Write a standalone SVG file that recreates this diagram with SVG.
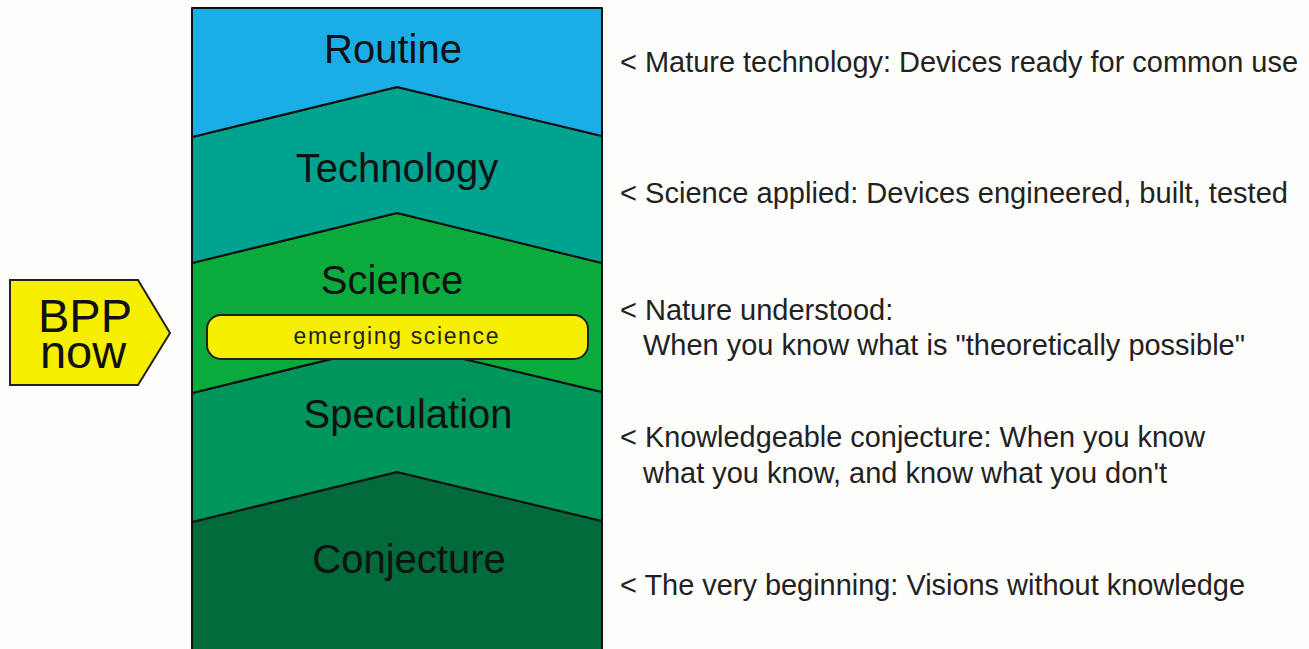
<svg xmlns="http://www.w3.org/2000/svg" width="1309" height="649" viewBox="0 0 1309 649">
<style>
.band{stroke:#111;stroke-width:2;stroke-linejoin:round}
.lbl{font-family:"Liberation Sans",Arial,sans-serif;font-size:40px;fill:#111;text-anchor:middle}
.desc{font-family:"Liberation Sans",Arial,sans-serif;font-size:29px;fill:#222}
.yel{fill:#f6ef00;stroke:#222;stroke-width:2}
</style>
<rect x="0" y="0" width="1309" height="649" fill="#fdfdfb"/>
<g id="conjecture">
<polygon class="band" fill="#006a3a" points="192,522 397,472 602,521 602,660 192,660"/>
<text class="lbl" x="409" y="573">Conjecture</text>
</g>
<g id="speculation">
<polygon class="band" fill="#00955a" points="192,393 397,343 602,392 602,521 397,472 192,522"/>
<text class="lbl" x="408" y="428">Speculation</text>
</g>
<g id="science">
<polygon class="band" fill="#0aab3c" points="192,263 397,213 602,263 602,392 397,343 192,393"/>
<text class="lbl" x="392" y="294">Science</text>
</g>
<g id="technology">
<polygon class="band" fill="#00a290" points="192,137 397,87 602,136 602,263 397,213 192,263"/>
<text class="lbl" x="397" y="182">Technology</text>
</g>
<g id="routine">
<polygon class="band" fill="#1badE6" points="192,8 602,8 602,136 397,87 192,137"/>
<text class="lbl" x="393" y="63">Routine</text>
</g>
<g id="emerging">
<rect class="yel" x="207" y="315" width="381" height="44" rx="14"/>
<text x="396" y="344" font-family="Liberation Sans,Arial,sans-serif" font-size="23" fill="#222" text-anchor="middle" textLength="205" lengthAdjust="spacing">emerging science</text>
</g>
<g id="bpp">
<polygon class="yel" points="10,280 138,280 170,333 138,385 10,385"/>
<text x="85" y="332" font-family="Liberation Sans,Arial,sans-serif" font-size="47" fill="#111" text-anchor="middle">BPP</text>
<text x="83" y="368" font-family="Liberation Sans,Arial,sans-serif" font-size="47" fill="#111" text-anchor="middle">now</text>
</g>
<g id="descriptions">
<text class="desc" x="620" y="72" textLength="678" lengthAdjust="spacingAndGlyphs">&lt; Mature technology: Devices ready for common use</text>
<text class="desc" x="620" y="203" textLength="668" lengthAdjust="spacingAndGlyphs">&lt; Science applied: Devices engineered, built, tested</text>
<text class="desc" x="620" y="320">&lt; Nature understood:</text>
<text class="desc" x="643" y="355" textLength="602" lengthAdjust="spacingAndGlyphs">When you know what is "theoretically possible"</text>
<text class="desc" x="620" y="447" textLength="585" lengthAdjust="spacingAndGlyphs">&lt; Knowledgeable conjecture: When you know</text>
<text class="desc" x="643" y="483" textLength="524" lengthAdjust="spacingAndGlyphs">what you know, and know what you don't</text>
<text class="desc" x="620" y="595" textLength="625" lengthAdjust="spacingAndGlyphs">&lt; The very beginning: Visions without knowledge</text>
</g>
</svg>
